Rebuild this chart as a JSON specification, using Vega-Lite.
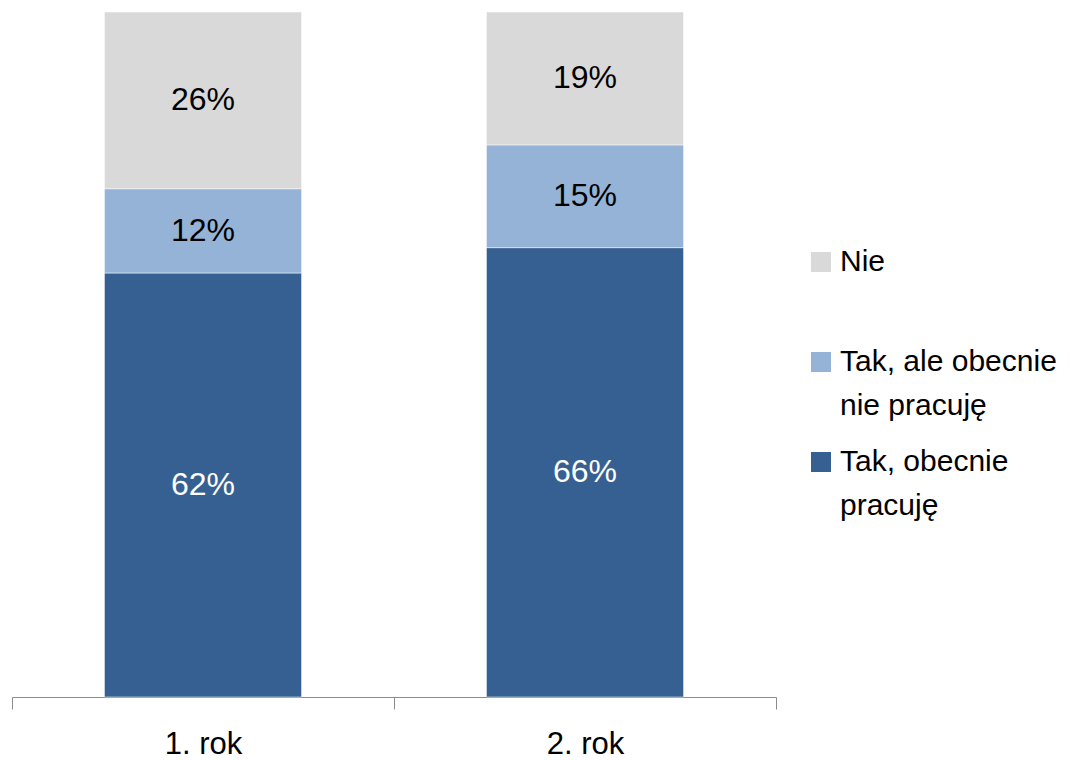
{
  "$schema": "https://vega.github.io/schema/vega-lite/v6.json",
  "autosize": "none",
  "width": 764,
  "height": 685,
  "padding": {"left": 12, "top": 12, "right": 294, "bottom": 63},
  "background": "white",
  "config": {
    "view": {"stroke": null},
    "font": "Liberation Sans",
    "style": {"guide-label": {"lineHeight": 44}}
  },
  "data": {
    "values": [
      {"rok": "1. rok", "kategoria": "Tak, obecnie pracuję", "udzial": 0.619},
      {"rok": "1. rok", "kategoria": "Tak, ale obecnie nie pracuję", "udzial": 0.123},
      {"rok": "1. rok", "kategoria": "Nie", "udzial": 0.258},
      {"rok": "2. rok", "kategoria": "Tak, obecnie pracuję", "udzial": 0.656},
      {"rok": "2. rok", "kategoria": "Tak, ale obecnie nie pracuję", "udzial": 0.150},
      {"rok": "2. rok", "kategoria": "Nie", "udzial": 0.194}
    ]
  },
  "encoding": {
    "x": {
      "field": "rok",
      "type": "nominal",
      "scale": {"paddingInner": 0, "paddingOuter": 0},
      "axis": {
        "title": null,
        "labelAngle": 0,
        "labelFontSize": 31,
        "labelColor": "black",
        "labelFont": "Liberation Sans",
        "labelPadding": 20,
        "tickBand": "extent",
        "tickSize": 12,
        "tickColor": "#8c8c8c",
        "domainColor": "#8c8c8c",
        "tickWidth": 1,
        "domainWidth": 1
      }
    }
  },
  "layer": [
    {
      "mark": {"type": "bar", "width": {"band": 0.516}, "stroke": "white", "strokeWidth": 1, "strokeOpacity": 0.5},
      "encoding": {
        "y": {"field": "udzial", "type": "quantitative", "stack": "zero", "scale": {"domain": [0, 1]}, "axis": null},
        "color": {
          "field": "kategoria",
          "type": "nominal",
          "scale": {
            "domain": ["Nie", "Tak, ale obecnie nie pracuję", "Tak, obecnie pracuję"],
            "range": ["#D9D9D9", "#95B3D7", "#376092"]
          },
          "legend": {
            "title": null,
            "orient": "none",
            "legendX": 794,
            "legendY": 235,
            "symbolType": "square",
            "symbolSize": 400,
            "symbolStrokeWidth": 0,
            "labelFontSize": 30,
            "labelFont": "Liberation Sans",
            "labelColor": "black",
            "labelLimit": 0,
            "labelOffset": 4,
            "labelBaseline": "middle",
            "gridAlign": "all",
            "rowPadding": 26,
            "labelExpr": "datum.label == 'Tak, ale obecnie nie pracuję' ? ['Tak, ale obecnie', 'nie pracuję'] : datum.label == 'Tak, obecnie pracuję' ? ['Tak, obecnie', 'pracuję'] : datum.label",
            "encode": {"labels": {"enter": {"lineHeight": {"value": 44}}, "update": {"lineHeight": {"value": 44}}}}
          }
        },
        "order": {"field": "kategoria", "sort": "descending"}
      }
    },
    {
      "transform": [
        {"stack": "udzial", "groupby": ["rok"], "sort": [{"field": "kategoria", "order": "descending"}], "as": ["v0", "v1"]},
        {"calculate": "(datum.v0 + datum.v1) / 2", "as": "mid"}
      ],
      "mark": {"type": "text", "fontSize": 32, "font": "Liberation Sans", "baseline": "middle", "align": "center"},
      "encoding": {
        "y": {"field": "mid", "type": "quantitative", "scale": {"domain": [0, 1]}},
        "text": {"field": "udzial", "type": "quantitative", "format": ".0%"},
        "color": {
          "condition": {"test": "datum.kategoria == 'Tak, obecnie pracuję'", "value": "white"},
          "value": "black"
        }
      }
    }
  ]
}
